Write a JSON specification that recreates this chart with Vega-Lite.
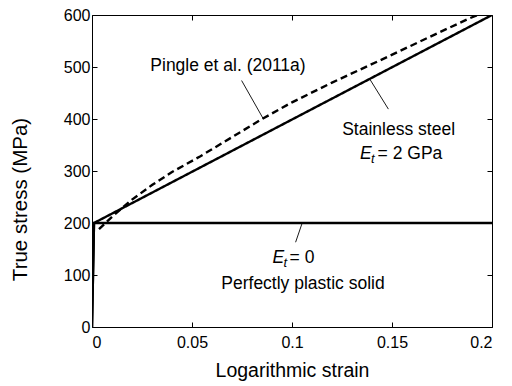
{
  "$schema": "https://vega.github.io/schema/vega-lite/v6.json",
  "width": 400,
  "height": 312,
  "autosize": "none",
  "padding": {"left": 92, "top": 15, "right": 20, "bottom": 59},
  "background": "white",
  "config": {
    "font": "Liberation Sans",
    "view": {"stroke": "#000", "strokeWidth": 1},
    "axis": {
      "domain": false,
      "grid": false,
      "tickColor": "#000",
      "tickSize": -5,
      "tickWidth": 1,
      "labelColor": "#000",
      "labelFont": "Liberation Sans",
      "labelFontSize": 16,
      "titleColor": "#000",
      "titleFont": "Liberation Sans",
      "titleFontSize": 19.5,
      "titleFontWeight": "normal"
    }
  },
  "datasets": {
    "curves": [
      {"strain": 0, "stress": 0, "series": "Perfectly plastic"},
      {"strain": 0.001, "stress": 200, "series": "Perfectly plastic"},
      {"strain": 0.2, "stress": 200, "series": "Perfectly plastic"},
      {"strain": 0, "stress": 0, "series": "Stainless steel"},
      {"strain": 0.001, "stress": 200, "series": "Stainless steel"},
      {"strain": 0.2, "stress": 600, "series": "Stainless steel"},
      {"strain": 0.0035, "stress": 188, "series": "Pingle"},
      {"strain": 0.01, "stress": 212, "series": "Pingle"},
      {"strain": 0.02, "stress": 245, "series": "Pingle"},
      {"strain": 0.03, "stress": 273, "series": "Pingle"},
      {"strain": 0.04, "stress": 298, "series": "Pingle"},
      {"strain": 0.054, "stress": 328, "series": "Pingle"},
      {"strain": 0.07, "stress": 365, "series": "Pingle"},
      {"strain": 0.085, "stress": 400, "series": "Pingle"},
      {"strain": 0.1, "stress": 432, "series": "Pingle"},
      {"strain": 0.12, "stress": 470, "series": "Pingle"},
      {"strain": 0.1475, "stress": 519, "series": "Pingle"},
      {"strain": 0.17, "stress": 560, "series": "Pingle"},
      {"strain": 0.189, "stress": 594, "series": "Pingle"},
      {"strain": 0.193, "stress": 600, "series": "Pingle"}
    ],
    "leaders": [
      {"x1": 0.0748, "y1": 474, "x2": 0.0857, "y2": 400},
      {"x1": 0.139, "y1": 476, "x2": 0.1482, "y2": 419},
      {"x1": 0.105, "y1": 199, "x2": 0.1018, "y2": 163}
    ],
    "labels": [
      {"x": 0.068, "y": 493, "label": "Pingle et al. (2011a)"},
      {"x": 0.1533, "y": 369, "label": "Stainless steel"},
      {"x": 0.1055, "y": 72.5, "label": "Perfectly plastic solid"}
    ],
    "eqs": [
      {"x": 0.1428, "y": 323, "label": "= 2 GPa"},
      {"x": 0.0988, "y": 122.5, "label": "= 0"}
    ],
    "esym": [
      {"x": 0.134, "y": 323, "label": "E"},
      {"x": 0.0903, "y": 122.5, "label": "E"}
    ],
    "tsym": [
      {"x": 0.1395, "y": 315, "label": "t"},
      {"x": 0.0958, "y": 116, "label": "t"}
    ]
  },
  "layer": [
    {
      "data": {"name": "curves"},
      "mark": {"type": "line", "color": "#000", "strokeWidth": 2.4, "clip": true},
      "encoding": {
        "x": {
          "field": "strain", "type": "quantitative",
          "scale": {"domain": [0, 0.2], "nice": false},
          "axis": {"orient": "bottom", "values": [0, 0.05, 0.1, 0.15, 0.2], "format": "~g", "title": "Logarithmic strain", "labelPadding": 12, "titlePadding": 11}
        },
        "y": {
          "field": "stress", "type": "quantitative",
          "scale": {"domain": [0, 600], "nice": false},
          "axis": {"orient": "left", "values": [0, 100, 200, 300, 400, 500, 600], "format": "d", "title": "True stress (MPa)", "titleFontSize": 20.5, "titleY": 184, "labelPadding": 7, "titlePadding": 33}
        },
        "detail": {"field": "series"},
        "strokeDash": {
          "field": "series", "type": "nominal",
          "scale": {"domain": ["Pingle", "Perfectly plastic", "Stainless steel"], "range": [[7, 4], [1, 0], [1, 0]]},
          "legend": null
        }
      }
    },
    {
      "data": {"name": "leaders"},
      "mark": {"type": "rule", "color": "#000", "strokeWidth": 0.9},
      "encoding": {
        "x": {"field": "x1", "type": "quantitative", "axis": {"orient": "top", "values": [0, 0.05, 0.1, 0.15, 0.2], "labels": false, "title": null}},
        "y": {"field": "y1", "type": "quantitative", "axis": {"orient": "right", "values": [0, 100, 200, 300, 400, 500, 600], "labels": false, "title": null}},
        "x2": {"field": "x2"},
        "y2": {"field": "y2"}
      }
    },
    {
      "data": {"name": "labels"},
      "mark": {"type": "text", "font": "Liberation Sans", "fontSize": 17.5, "align": "center", "baseline": "alphabetic", "color": "#000"},
      "encoding": {
        "x": {"field": "x", "type": "quantitative", "axis": null},
        "y": {"field": "y", "type": "quantitative", "axis": null},
        "text": {"field": "label"}
      }
    },
    {
      "data": {"name": "eqs"},
      "mark": {"type": "text", "font": "Liberation Sans", "fontSize": 17.5, "align": "left", "baseline": "alphabetic", "color": "#000"},
      "encoding": {
        "x": {"field": "x", "type": "quantitative", "axis": null},
        "y": {"field": "y", "type": "quantitative", "axis": null},
        "text": {"field": "label"}
      }
    },
    {
      "data": {"name": "esym"},
      "mark": {"type": "text", "font": "Liberation Sans", "fontSize": 17.5, "fontStyle": "italic", "align": "left", "baseline": "alphabetic", "color": "#000"},
      "encoding": {
        "x": {"field": "x", "type": "quantitative", "axis": null},
        "y": {"field": "y", "type": "quantitative", "axis": null},
        "text": {"field": "label"}
      }
    },
    {
      "data": {"name": "tsym"},
      "mark": {"type": "text", "font": "Liberation Sans", "fontSize": 13, "fontStyle": "italic", "align": "left", "baseline": "alphabetic", "color": "#000"},
      "encoding": {
        "x": {"field": "x", "type": "quantitative", "axis": null},
        "y": {"field": "y", "type": "quantitative", "axis": null},
        "text": {"field": "label"}
      }
    }
  ],
  "resolve": {"axis": {"x": "independent", "y": "independent"}}
}
